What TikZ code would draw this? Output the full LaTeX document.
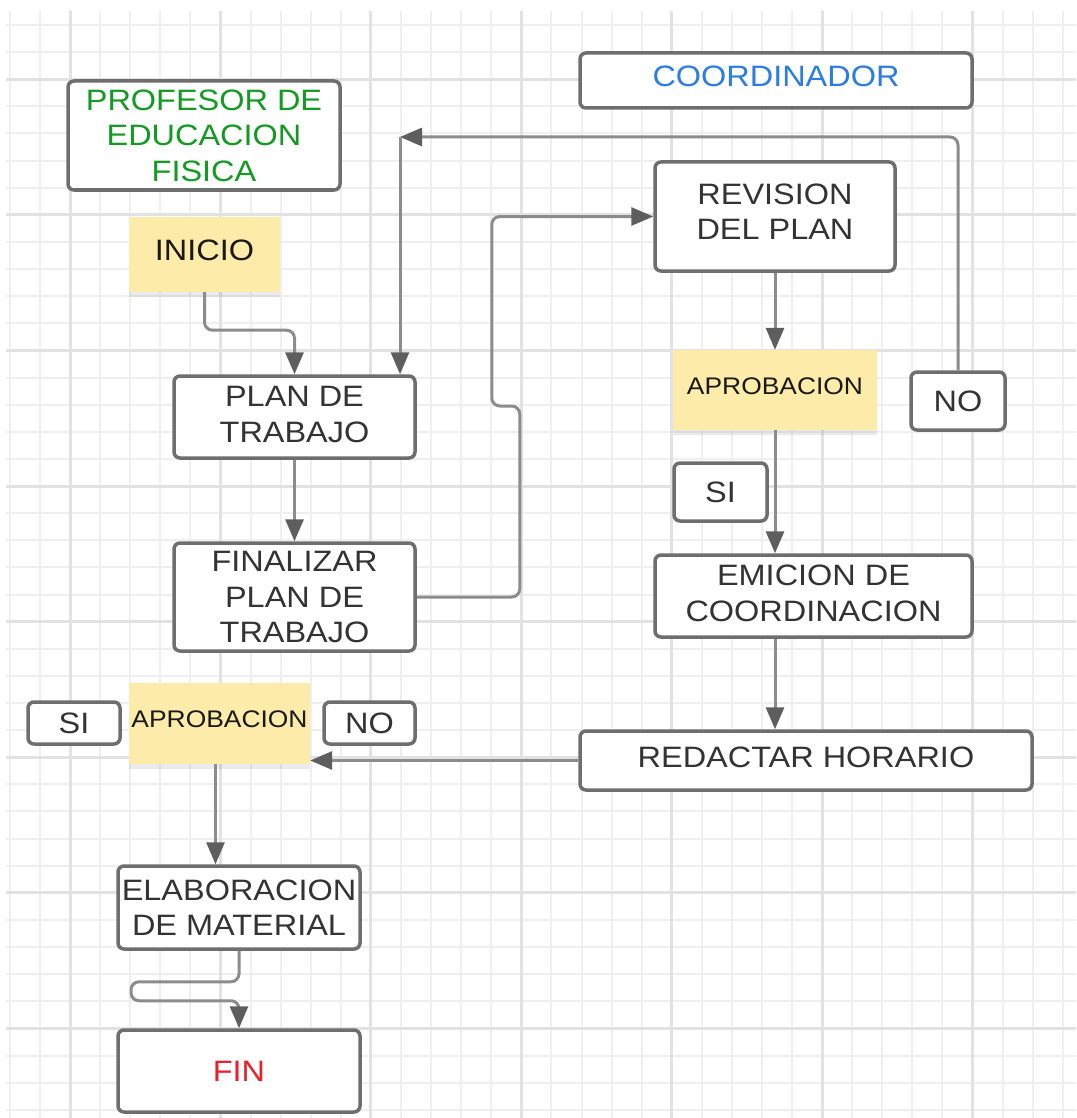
\documentclass[tikz,border=0pt]{standalone}
\usepackage{fontspec}
\setmainfont{Liberation Sans}[FakeStretch=1.1]
\usetikzlibrary{arrows.meta,shadows}
\definecolor{gridminor}{HTML}{EFEFEF}
\definecolor{gridmajor}{HTML}{E2E2E2}
\definecolor{boxline}{HTML}{6E6E6E}
\definecolor{linkline}{HTML}{8C8C8C}
\definecolor{tipgray}{HTML}{5E5E5E}
\definecolor{textgray}{HTML}{333333}
\definecolor{notefill}{HTML}{FDEBA9}
\definecolor{profgreen}{HTML}{139A22}
\definecolor{coordblue}{HTML}{2C7DE3}
\definecolor{finred}{HTML}{E8202A}

\begin{document}
\begin{tikzpicture}[x=1pt,y=-1pt,
    box/.style={draw=boxline,line width=3.5pt,rounded corners=6pt,fill=white,text=textgray,align=center,inner sep=0pt,font=\fontsize{29.5}{35.5}\selectfont},
    note/.style={fill=notefill,text=black!90,align=center,inner sep=0pt,text depth=8pt,font=\fontsize{29.5}{35.5}\selectfont,drop shadow={shadow xshift=0pt,shadow yshift=-5pt,opacity=0.08,fill=black}},
    lnk/.style={draw=linkline,line width=3pt,rounded corners=8pt},
    arw/.style={-{Triangle[length=22pt,width=18pt,color=tipgray]}}]
    \useasboundingbox (0,0) rectangle (1076,1118);
    \fill[white] (0,0) rectangle (1076,1118);
    \foreach \k in {0,...,35} \draw[gridminor,line width=2pt] (10+30.08*\k,11) -- (10+30.08*\k,1118);
    \foreach \k in {0,...,40} \draw[gridminor,line width=2pt] (6,25+27.12*\k) -- (1076,25+27.12*\k);
    \foreach \k in {2,7,...,32} \draw[gridmajor,line width=3pt] (10+30.08*\k,11) -- (10+30.08*\k,1118);
    \foreach \k in {2,7,...,37} \draw[gridmajor,line width=3pt] (6,25+27.12*\k) -- (1076,25+27.12*\k);

    \node[box,minimum width=272pt,minimum height=109pt,text=profgreen] (P1) at (204,135.5) {PROFESOR DE\\EDUCACION\\FISICA};
    \node[note,minimum width=151pt,minimum height=75pt] (P2) at (204.5,254.5) {INICIO};
    \node[box,minimum width=241pt,minimum height=82pt,text depth=5pt] (P3) at (294.5,417) {PLAN DE\\TRABAJO};
    \node[box,minimum width=241pt,minimum height=108pt] (P4) at (294.5,597) {FINALIZAR\\PLAN DE\\TRABAJO};
    \node[box,minimum width=92pt,minimum height=42pt] (P5) at (74,723) {SI};
    \node[note,minimum width=181pt,minimum height=81pt,font=\fontsize{24}{28}\selectfont] (P6) at (219.5,723.5) {APROBACION};
    \node[box,minimum width=91pt,minimum height=42pt] (P7) at (369.5,723) {NO};
    \node[box,minimum width=242pt,minimum height=83pt] (P8) at (239,907.5) {ELABORACION\\DE MATERIAL};
    \node[box,minimum width=242pt,minimum height=82pt,text=finred] (P9) at (239,1071) {FIN};

    \node[box,minimum width=392pt,minimum height=55pt,text depth=9pt,text=coordblue] (C1) at (776,80.5) {COORDINADOR};
    \node[box,minimum width=240pt,minimum height=109pt,text depth=10pt] (C2) at (775,216.5) {REVISION\\DEL PLAN};
    \node[note,minimum width=204pt,minimum height=80pt,font=\fontsize{24}{28}\selectfont] (C3) at (775,390) {APROBACION};
    \node[box,minimum width=94pt,minimum height=58pt] (C4) at (958,401) {NO};
    \node[box,minimum width=93pt,minimum height=58pt] (C5) at (720.5,492) {SI};
    \node[box,minimum width=317pt,minimum height=82pt,text depth=6pt] (C6) at (813.5,596) {EMICION DE\\COORDINACION};
    \node[box,minimum width=452pt,minimum height=59pt,text depth=7pt] (C7) at (806,760.5) {REDACTAR HORARIO};
    \coordinate (loop) at (400,137);

    \draw[lnk,arw] (P2.south) -- ++(0,38) -| (P3.north);
    \draw[lnk,arw] (P3.south) -- (P4.north);
    \draw[lnk,arw] (P4.east) -- ++(103,0) -- ++(0,-191) -- ++(-28,0) |- (C2.west);
    \draw[lnk,arw] (C2.south) -- (C3.north);
    \draw[lnk,arw] (C3.south) -- (C3.south |- C6.north);
    \draw[lnk,arw] (C4.north) |- (loop);
    \draw[lnk,arw] (loop) -- (loop |- P3.north);
    \draw[lnk,arw] (C3.south |- C6.south) -- (C3.south |- C7.north);
    \draw[lnk,arw] (C7.west) -- (C7.west -| P6.east);
    \draw[lnk,arw] ([xshift=-4pt]P6.south) -- ([xshift=-4pt]P6.south |- P8.north);
    \draw[lnk,arw] (P8.south) -- ++(0,31) -- ++(-108,0) -- ++(0,19) -- ++(108,0) -- (P9.north);
\end{tikzpicture}
\end{document}
